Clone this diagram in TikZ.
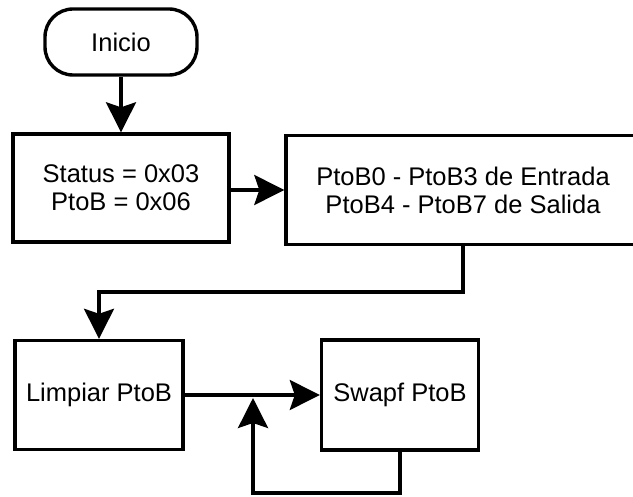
\documentclass[tikz,border=0pt]{standalone}
\usepackage{fontspec}
\setmainfont{Liberation Sans}
\usetikzlibrary{arrows.meta,calc}
\begin{document}
\begin{tikzpicture}[x=1pt,y=-1pt,
  line width=3.4pt,
  every node/.style={font=\fontsize{25.5}{28}\selectfont, align=center, inner sep=0pt},
  procbox/.style={draw, rectangle, minimum width=#1},
  terminal/.style={draw, rectangle, rounded corners=28pt, minimum width=152pt, minimum height=66pt},
  flow/.style={-{Stealth[length=30pt,width=30pt,inset=5pt]}}
]
\useasboundingbox (0,0) rectangle (633,497);
\clip (0,0) rectangle (633,497);

% blocks of the flow chart
\node[terminal] (inicio) at (121,42) {Inicio};
\node[procbox=216pt, minimum height=108pt] (cfg) at (121,188) {Status = 0x03\\PtoB = 0x06};
\node[procbox=354pt, minimum height=109pt] (ports) at (463,190) {PtoB0 - PtoB3 de Entrada\\PtoB4 - PtoB7 de Salida};
\node[procbox=168pt, minimum height=109pt] (clr) at (99,395) {Limpiar PtoB};
\node[procbox=157pt, minimum height=110pt] (swap) at (400,395) {Swapf PtoB};

% turning points of the connectors
\coordinate (down1) at (463,292);
\coordinate (down2) at (99,292);
\coordinate (loopA) at (400,493);
\coordinate (loopB) at (253,493);
\coordinate (loopEnd) at (253,398);

% connectors
\draw[flow] (inicio.south) -- (cfg.north);
\draw[flow] (cfg.east |- 0,190) -- (ports.west);
\draw[flow] (ports.south) -- (down1) -- (down2) -- (clr.north);
\draw[flow] (clr.east) -- (swap.west);
\draw[flow] (swap.south) -- (loopA) -- (loopB) -- (loopEnd);
\end{tikzpicture}
\end{document}
